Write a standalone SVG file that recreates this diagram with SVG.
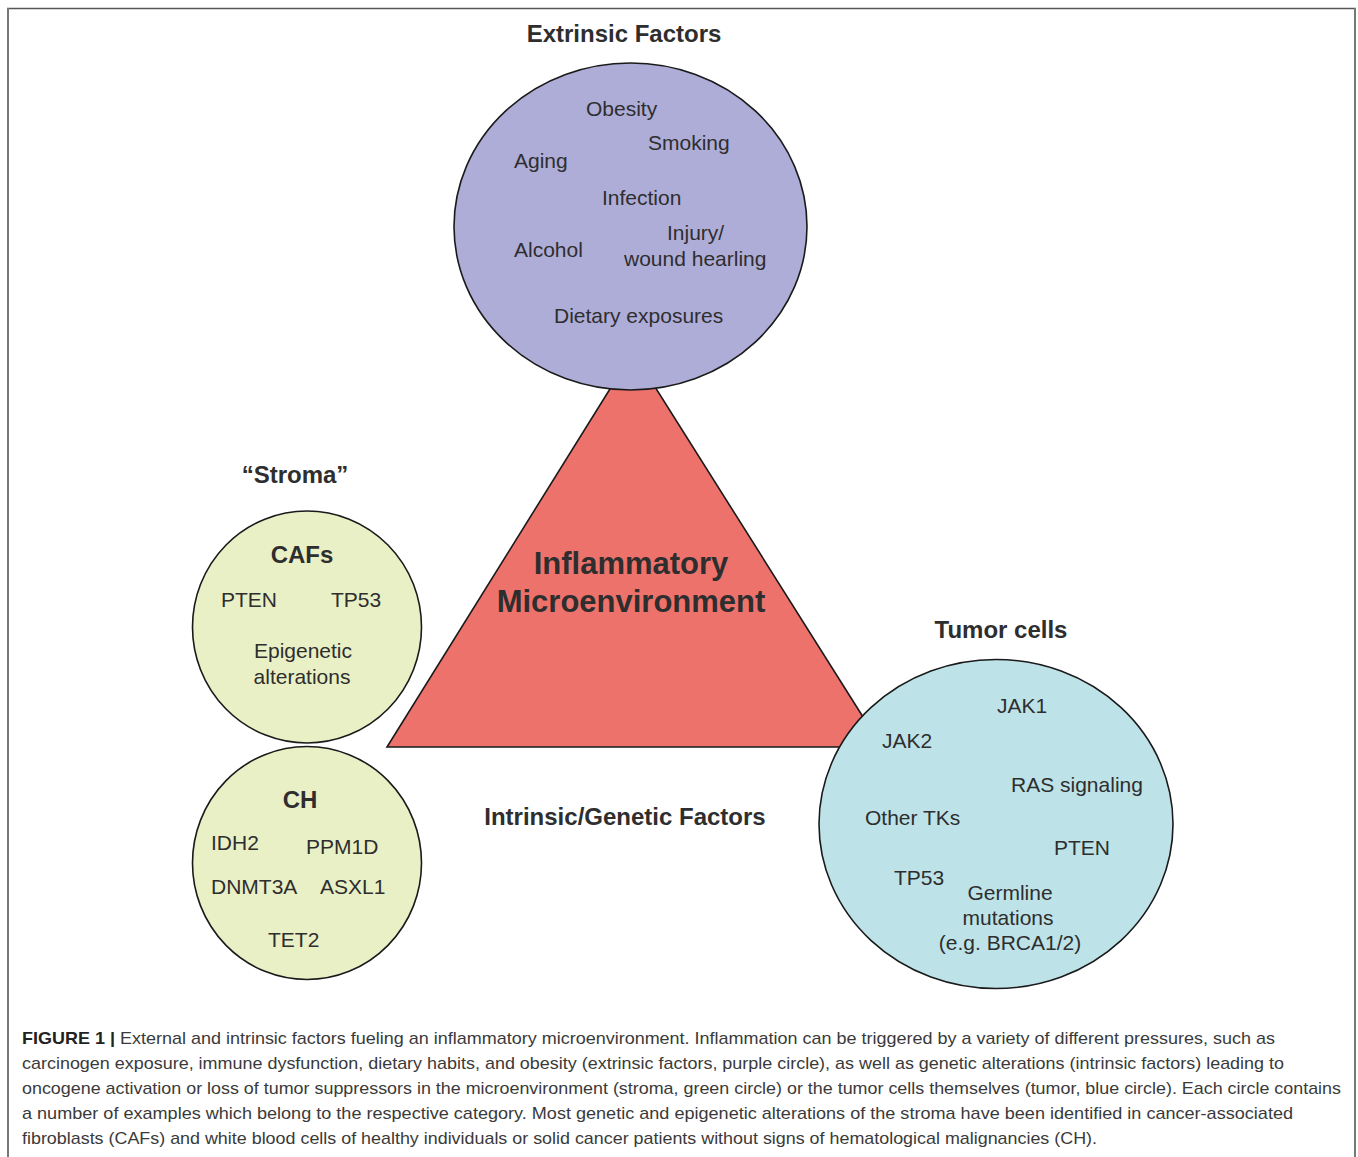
<svg xmlns="http://www.w3.org/2000/svg" width="1358" height="1157" viewBox="0 0 1358 1157">
<style>
.t{font-family:"Liberation Sans",Arial,sans-serif;font-size:21px;fill:#2e2e2e}
.b{font-family:"Liberation Sans",Arial,sans-serif;font-size:24px;font-weight:bold;fill:#2e2e2e}
.m{text-anchor:middle}
.shape{stroke:#1a1a1a;stroke-width:1.6}
.cap{font-family:"Liberation Sans",Arial,sans-serif;font-size:17px;fill:#3a3a3a}
</style>
<rect width="1358" height="1157" fill="#ffffff"/>
<g id="frame" fill="none">
<line x1="7" y1="8.5" x2="1356" y2="8.5" stroke="#555" stroke-width="1.5"/>
<line x1="8" y1="8" x2="8" y2="1157" stroke="#777" stroke-width="2"/>
<line x1="1355" y1="8" x2="1355" y2="1157" stroke="#777" stroke-width="2"/>
</g>
<g id="connectors"></g>
<g id="triangle">
<polygon class="shape" points="633,352 387,747 882,747" fill="#ee726c"/>
<text class="b m" x="631" y="574" style="font-size:31px">Inflammatory</text>
<text class="b m" x="631" y="612" style="font-size:31px">Microenvironment</text>
</g>
<g id="extrinsic">
<text class="b m" x="624" y="42">Extrinsic Factors</text>
<ellipse class="shape" cx="630.5" cy="226.5" rx="176.5" ry="163.5" fill="#aeadd8"/>
<text class="t" x="586" y="116">Obesity</text>
<text class="t" x="648" y="150">Smoking</text>
<text class="t" x="514" y="168">Aging</text>
<text class="t" x="602" y="205">Infection</text>
<text class="t" x="667" y="240">Injury/</text>
<text class="t" x="624" y="266">wound hearling</text>
<text class="t" x="514" y="257">Alcohol</text>
<text class="t" x="554" y="323">Dietary exposures</text>
</g>
<g id="stroma">
<text class="b m" x="295" y="483">“Stroma”</text>
</g>
<g id="cafs">
<ellipse class="shape" cx="307" cy="627" rx="114.5" ry="116" fill="#eaf0c6"/>
<text class="b m" x="302" y="563">CAFs</text>
<text class="t" x="221" y="607">PTEN</text>
<text class="t" x="331" y="607">TP53</text>
<text class="t m" x="303" y="658">Epigenetic</text>
<text class="t m" x="302" y="684">alterations</text>
</g>
<g id="ch">
<ellipse class="shape" cx="307" cy="863" rx="114.5" ry="116.5" fill="#eaf0c6"/>
<text class="b m" x="300" y="808">CH</text>
<text class="t" x="211" y="850">IDH2</text>
<text class="t" x="306" y="854">PPM1D</text>
<text class="t" x="211" y="894">DNMT3A</text>
<text class="t" x="320" y="894">ASXL1</text>
<text class="t" x="268" y="947">TET2</text>
</g>
<g id="intrinsic">
<text class="b m" x="625" y="825">Intrinsic/Genetic Factors</text>
</g>
<g id="tumor">
<text class="b m" x="1001" y="638">Tumor cells</text>
<ellipse class="shape" cx="996" cy="824" rx="177" ry="164.5" fill="#bde3e8"/>
<text class="t" x="997" y="713">JAK1</text>
<text class="t" x="882" y="748">JAK2</text>
<text class="t" x="1011" y="792">RAS signaling</text>
<text class="t" x="865" y="825">Other TKs</text>
<text class="t" x="1054" y="855">PTEN</text>
<text class="t" x="894" y="885">TP53</text>
<text class="t m" x="1010" y="900">Germline</text>
<text class="t m" x="1008" y="925">mutations</text>
<text class="t m" x="1010" y="950">(e.g. BRCA1/2)</text>
</g>
<g id="caption">
<text class="cap" x="22" y="1044" textLength="1253" lengthAdjust="spacingAndGlyphs"><tspan font-weight="bold" fill="#222">FIGURE 1 |</tspan> External and intrinsic factors fueling an inflammatory microenvironment. Inflammation can be triggered by a variety of different pressures, such as</text>
<text class="cap" x="22" y="1069" textLength="1262" lengthAdjust="spacingAndGlyphs">carcinogen exposure, immune dysfunction, dietary habits, and obesity (extrinsic factors, purple circle), as well as genetic alterations (intrinsic factors) leading to</text>
<text class="cap" x="22" y="1094" textLength="1319" lengthAdjust="spacingAndGlyphs">oncogene activation or loss of tumor suppressors in the microenvironment (stroma, green circle) or the tumor cells themselves (tumor, blue circle). Each circle contains</text>
<text class="cap" x="22" y="1119" textLength="1271" lengthAdjust="spacingAndGlyphs">a number of examples which belong to the respective category. Most genetic and epigenetic alterations of the stroma have been identified in cancer-associated</text>
<text class="cap" x="22" y="1144" textLength="1075" lengthAdjust="spacingAndGlyphs">fibroblasts (CAFs) and white blood cells of healthy individuals or solid cancer patients without signs of hematological malignancies (CH).</text>
</g>
</svg>
